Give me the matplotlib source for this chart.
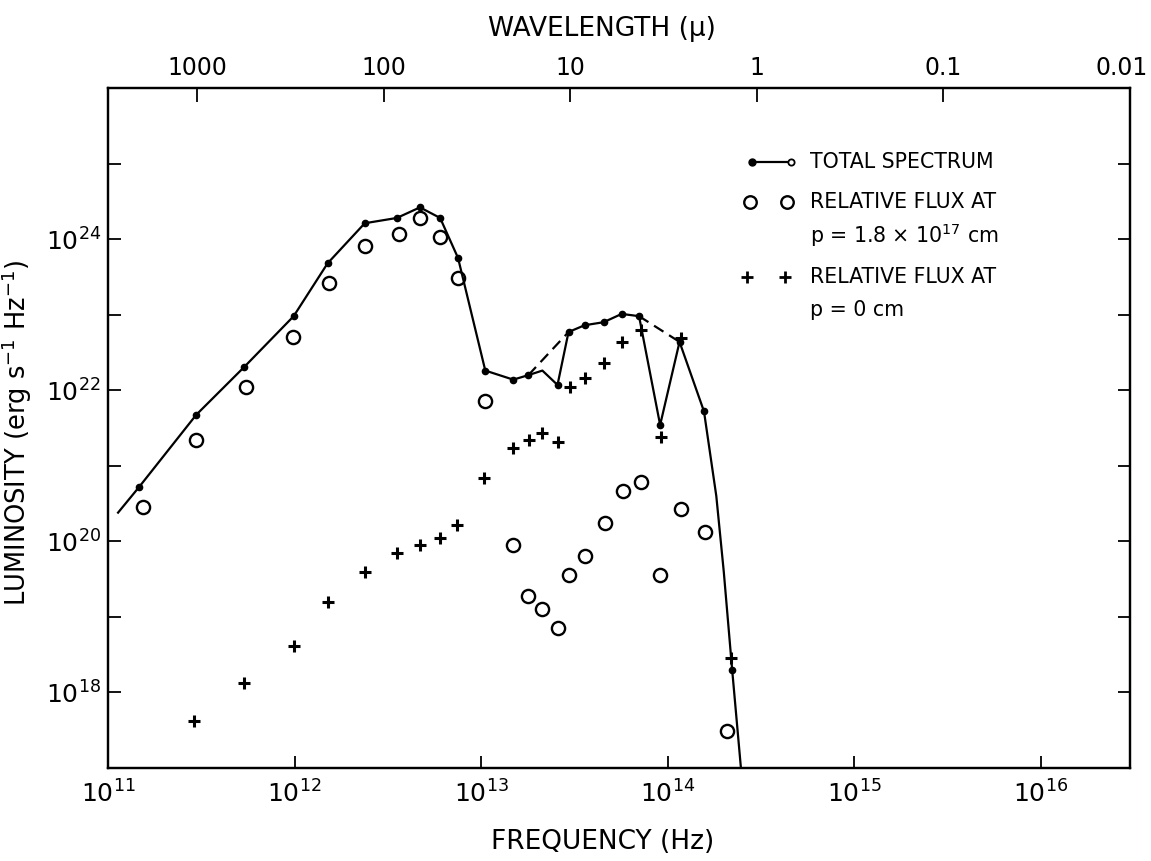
import matplotlib.pyplot as plt
import numpy as np
from matplotlib.ticker import NullLocator
from matplotlib.transforms import ScaledTranslation

# log10 frequency (Hz) / log10 luminosity (erg s^-1 Hz^-1)
total_log_nu = [11.054, 11.167, 11.473, 11.731, 11.995, 12.177, 12.376, 12.548, 12.672,
                12.78, 12.876, 13.022, 13.172, 13.253, 13.328, 13.409, 13.468, 13.554,
                13.656, 13.753, 13.846, 13.959, 14.063, 14.194, 14.26, 14.30, 14.345,
                14.392, 14.41]
total_log_L = [20.38, 20.72, 21.675, 22.31, 22.98, 23.68, 24.21, 24.28, 24.42,
               24.28, 23.75, 22.26, 22.14, 22.20, 22.26, 22.07, 22.77, 22.86,
               22.90, 23.01, 22.98, 21.54, 22.64, 21.72, 20.6, 19.6, 18.3,
               17.0, 16.5]
total_marked = [False, True, True, True, True, True, True, True, True,
                True, True, True, True, True, False, True, True, True,
                True, True, True, True, True, True, False, False, True,
                False, False]

# dashed envelope bridging the two absorption dips
envelope_log_nu = [[13.253, 13.468], [13.846, 14.063]]
envelope_log_L = [[22.20, 22.77], [22.98, 22.64]]

circle_log_nu = [11.188, 11.473, 11.737, 11.989, 12.183, 12.376, 12.559, 12.672, 12.78,
                 12.876, 13.022, 13.172, 13.253, 13.328, 13.409, 13.468, 13.554, 13.661,
                 13.758, 13.855, 13.959, 14.07, 14.199, 14.317]
circle_log_L = [20.45, 21.34, 22.04, 22.71, 23.42, 23.91, 24.07, 24.28, 24.03,
                23.48, 21.86, 19.95, 19.27, 19.1, 18.85, 19.55, 19.8, 20.24,
                20.66, 20.78, 19.55, 20.43, 20.12, 17.49]

cross_log_nu = [11.462, 11.731, 11.995, 12.177, 12.376, 12.548, 12.672, 12.78, 12.871,
                13.016, 13.172, 13.258, 13.328, 13.409, 13.478, 13.559, 13.656, 13.753,
                13.855, 13.962, 14.07, 14.34]
cross_log_L = [17.62, 18.13, 18.61, 19.2, 19.6, 19.85, 19.95, 20.05, 20.22,
               20.84, 21.23, 21.34, 21.44, 21.31, 22.04, 22.16, 22.36, 22.64,
               22.80, 21.38, 22.69, 18.45]

freq_decades = [11, 12, 13, 14, 15, 16]
lum_decades = list(range(17, 27))
lum_labels = {18, 20, 22, 24}
wavelengths = [1000, 100, 10, 1, 0.1, 0.01]
wavelength_labels = ["1000", "100", "10", "1", "0.1", "0.01"]
C_MICRON = 3e14  # speed of light in micron/s


def main():
    plt.rcParams["font.family"] = "DejaVu Sans"
    plt.rcParams["mathtext.fontset"] = "dejavusans"

    fig = plt.figure(figsize=(11.51, 8.61), dpi=100)
    ax = fig.add_axes([108 / 1151, 1 - 768 / 861, 1022 / 1151, 680 / 861])
    ax.set_xscale("log")
    ax.set_yscale("log")
    ax.set_xlim(1e11, 3e16)
    ax.set_ylim(1e17, 1e26)

    tnu = 10 ** np.array(total_log_nu)
    tL = 10 ** np.array(total_log_L)
    mark = np.array(total_marked)
    ax.plot(tnu, tL, color="black", lw=1.6, zorder=3)
    ax.plot(tnu[mark], tL[mark], "o", ms=4.5, color="black", zorder=4)
    for xs, ys in zip(envelope_log_nu, envelope_log_L):
        ax.plot(10 ** np.array(xs), 10 ** np.array(ys), color="black", lw=1.6,
                dashes=(5, 3), zorder=3)

    ax.plot(10 ** np.array(circle_log_nu), 10 ** np.array(circle_log_L), "o",
            ms=9.5, mfc="none", mec="black", mew=1.7, zorder=2)
    ax.plot(10 ** np.array(cross_log_nu), 10 ** np.array(cross_log_L), "+",
            ms=9, color="black", mew=2.2, zorder=2)

    # axes styling: inward ticks on all sides
    for sp in ax.spines.values():
        sp.set_linewidth(1.6)
    ax.set_xticks([10.0 ** d for d in freq_decades])
    ax.set_xticklabels([f"$10^{{{d}}}$" for d in freq_decades])
    ax.set_yticks([10.0 ** d for d in lum_decades])
    ax.set_yticklabels([f"$10^{{{d}}}$" if d in lum_labels else "" for d in lum_decades])
    ax.xaxis.set_minor_locator(NullLocator())
    ax.yaxis.set_minor_locator(NullLocator())
    ax.tick_params(axis="both", direction="in", length=9, width=1.3,
                   labelsize=18, right=True)
    ax.tick_params(axis="x", pad=9)
    ax.tick_params(axis="y", pad=5)

    top = ax.twiny()
    top.set_xscale("log")
    top.set_xlim(ax.get_xlim())
    top.set_xticks([C_MICRON / w for w in wavelengths])
    top.set_xticklabels(wavelength_labels)
    top.xaxis.set_minor_locator(NullLocator())
    top.tick_params(direction="in", length=10, width=1.3, labelsize=17, pad=6)
    for sp in top.spines.values():
        sp.set_linewidth(1.6)
    last = top.get_xticklabels()[-1]
    last.set_transform(last.get_transform() + ScaledTranslation(-6 / 72, 0, fig.dpi_scale_trans))

    top.set_xlabel("WAVELENGTH (\u03bc)", fontsize=19)
    top.xaxis.set_label_coords(0.483, 1.076)
    ax.set_xlabel("FREQUENCY (Hz)", fontsize=19)
    ax.xaxis.set_label_coords(0.484, -0.090)
    ax.set_ylabel("LUMINOSITY (erg s$^{-1}$ Hz$^{-1}$)", fontsize=18.5)
    ax.yaxis.set_label_coords(-0.072, 0.493)

    # hand-drawn key in the upper right
    def fx(px):
        return (px - 108) / 1022

    def fy(py):
        return (768 - py) / 680

    tr = ax.transAxes
    ax.plot([fx(752), fx(791)], [fy(162), fy(162)], color="black", lw=1.6, transform=tr)
    ax.plot([fx(752)], [fy(162)], "o", ms=5, color="black", transform=tr)
    ax.plot([fx(791)], [fy(162)], "o", ms=4.5, mfc="white", mec="black", mew=1.3,
            transform=tr)
    ax.plot([fx(750), fx(787)], [fy(202), fy(202)], "o", ms=9, mfc="none", mec="black",
            mew=1.7, ls="none", transform=tr)
    ax.plot([fx(747), fx(785)], [fy(277), fy(277)], "+", ms=9, color="black", mew=2.0,
            ls="none", transform=tr)
    kw = dict(transform=tr, fontsize=14.8, va="center", ha="left")
    ax.text(fx(810), fy(162), "TOTAL SPECTRUM", **kw)
    ax.text(fx(810), fy(202), "RELATIVE FLUX AT", **kw)
    ax.text(fx(810), fy(235), "p = 1.8 \u00d7 10$^{17}$ cm", **kw)
    ax.text(fx(810), fy(277), "RELATIVE FLUX AT", **kw)
    ax.text(fx(810), fy(310), "p = 0 cm", **kw)

    fig.savefig("out.png", dpi=100)


if __name__ == "__main__":
    main()
